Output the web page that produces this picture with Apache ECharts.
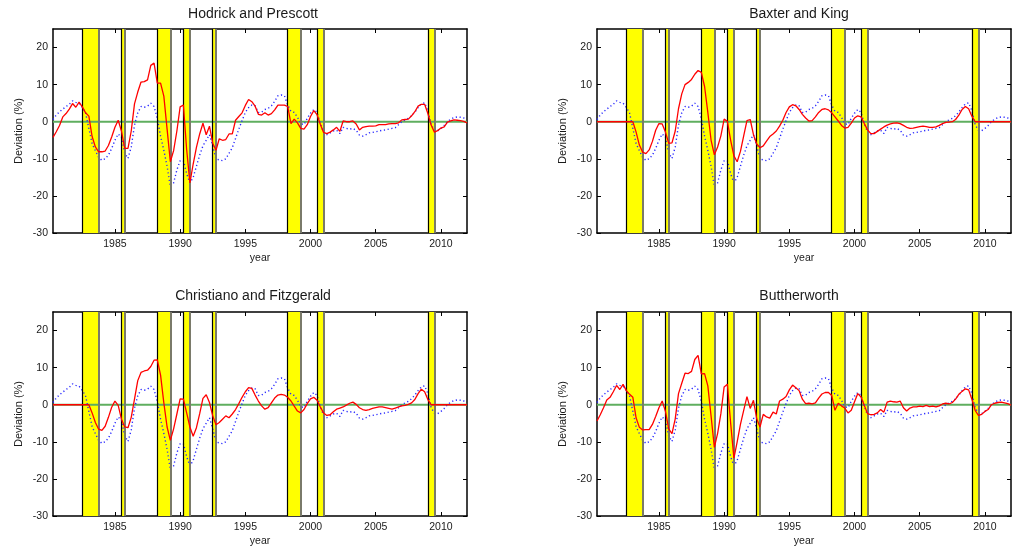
<!DOCTYPE html>
<html>
<head>
<meta charset="utf-8">
<script src="https://cdn.jsdelivr.net/npm/echarts@6/dist/echarts.min.js"></script>
<style>
  html, body { margin: 0; padding: 0; background: #fff; }
  #chart { width: 1012px; height: 554px; }
</style>
</head>
<body>
<div id="chart"></div>
<script>
// Quarterly sample: 1980Q2 .. 2012Q1
const firstQuarter = 1980.25;
const lastQuarter = 2012.0;
const quarterStep = 0.25;

// Observed deviation (%), shared by every panel (blue dotted)
const observed = [
  0.6, 1.8, 2.7, 3.4, 4.1, 4.7, 5.6, 5.2, 5.0, 3.9,
  2.3, -1.8, -5.9, -7.8, -9.6, -10.4, -10.0, -9.0, -7.2, -5.0,
  -3.3, -4.2, -8.4, -9.9, -6.8, -0.9, 2.4, 4.1, 3.9, 4.2,
  5.0, 4.1, 0.9, -3.9, -7.7, -12.0, -17.5, -16.5, -13.0, -10.5,
  -10.5, -14.0, -16.5, -15.0, -12.0, -9.0, -6.5, -5.0, -3.5, -6.5,
  -10.0, -10.3, -10.5, -10.0, -8.5, -7.0, -4.5, -2.0, 0.3, 2.5,
  3.8, 4.5, 4.3, 2.5, 2.6, 3.3, 3.6, 4.3, 5.5, 7.0,
  7.2, 7.0, 4.5, 2.8, 2.5, 1.2, -0.5, -0.8, 0.9, 2.3,
  3.3, 2.5, -0.5, -2.8, -3.5, -3.0, -2.5, -2.3, -3.2, -1.5,
  -1.8, -2.0, -1.8, -2.3, -3.6, -3.9, -3.5, -3.0, -2.9, -2.7,
  -2.5, -2.3, -2.2, -2.0, -1.8, -1.6, -0.8, 0.0, 0.5, 0.9,
  1.6, 2.6, 3.8, 4.8, 5.1, 3.0, -0.8, -2.3, -2.4, -1.8,
  -1.0, 0.0, 0.7, 1.1, 1.3, 1.2, 1.0, 0.8
];

// Filtered cycles (%), red
const hodrickPrescott = [
  -4.2, -2.7, -1.0, 1.3, 2.2, 3.4, 4.9, 3.9, 5.3, 4.0,
  2.4, 1.5, -4.0, -6.8, -8.1, -8.1, -7.9, -6.4, -4.1, -1.5,
  0.4, -2.5, -7.2, -7.2, -2.5, 4.8, 8.0, 10.7, 10.8, 11.3,
  15.2, 15.8, 10.4, 10.4, 6.9, -2.0, -10.8, -7.8, -2.5, 4.0,
  4.5, -7.5, -16.5, -11.4, -6.9, -3.3, -0.4, -3.5, -1.2, -5.8,
  -7.7, -4.6, -5.0, -4.8, -3.3, -3.3, 0.4, 1.4, 2.4, 4.4,
  6.0, 5.4, 4.2, 2.0, 1.8, 2.4, 1.8, 2.2, 3.2, 4.5,
  4.5, 4.5, 4.1, -0.5, 0.7, -0.3, -1.8, -2.0, -0.8, 1.4,
  3.0, 1.9, -0.7, -2.9, -3.2, -2.8, -2.2, -1.5, -2.6, 0.2,
  0.0, 0.0, 0.2, -0.6, -2.2, -1.5, -1.3, -1.2, -1.2, -1.1,
  -0.8, -0.8, -0.8, -0.6, -0.5, -0.5, -0.3, 0.5, 0.6, 0.7,
  1.6, 2.7, 4.2, 4.7, 4.7, 2.2, -0.9, -2.8, -2.4, -1.7,
  -1.4, -0.1, 0.2, 0.5, 0.4, 0.3, 0.1, -0.3
];

const baxterKing = [
  0, 0, 0, 0, 0, 0, 0, 0, 0, 0,
  0, 0, -2.8, -6.3, -8.2, -8.6, -7.6, -5.3, -2.3, -0.5,
  -0.6, -2.8, -5.8, -5.7, -2.5, 3.5, 7.5, 10.0, 10.6, 11.4,
  12.8, 13.8, 13.3, 9.5, 2.5, -5.0, -8.9, -6.8, -3.8, 0.7,
  0.1, -5.0, -9.2, -10.8, -8.0, -3.8, 0.3, 0.6, -3.5, -6.0,
  -7.0, -6.5, -5.2, -4.0, -3.3, -2.5, -1.2, 0.4, 2.5, 4.0,
  4.6, 4.3, 3.3, 2.0, 1.0, 0.2, 0.3, 1.3, 2.5, 3.3,
  3.5, 3.2, 2.4, 1.3, 0.2, -1.0, -1.7, -1.5, -0.4, 1.0,
  1.6, 1.3, -0.5, -2.2, -3.2, -3.2, -2.6, -2.0, -1.4, -0.9,
  -0.6, -0.4, -0.3, -0.5, -1.0, -1.5, -1.8, -1.7, -1.5, -1.3,
  -1.2, -1.3, -1.5, -1.5, -1.4, -1.0, -0.5, -0.2, -0.1, 0.0,
  0.6, 1.8, 3.3, 4.1, 3.5, 1.5, 0, 0, 0, 0,
  0, 0, 0, 0, 0, 0, 0, 0
];

const christianoFitzgerald = [
  0, 0, 0, 0, 0, 0, 0, 0, 0, 0,
  0, 0, -2.2, -4.8, -6.6, -6.9, -5.8, -3.4, -0.7, 1.0,
  -0.2, -3.9, -6.0, -6.2, -3.4, 1.5, 6.5, 8.7, 9.1, 9.3,
  10.3, 12.0, 12.1, 8.0, 0.5, -6.0, -9.6, -6.5, -2.5, 1.6,
  1.5, -2.2, -6.0, -8.5, -6.2, -2.4, 1.7, 2.7, 0.6, -3.0,
  -5.4, -4.8, -3.9, -3.0, -3.5, -2.5, -1.3, 0.3, 2.0, 3.5,
  4.6, 4.4, 2.6, 1.0, -0.3, -1.2, -0.8, 0.5, 1.8, 2.6,
  2.8, 2.6, 2.0, 1.0, -0.4, -1.7, -2.2, -1.3, 0.3, 1.6,
  2.0, 1.2, -0.6, -2.2, -2.9, -2.7, -1.9, -1.2, -0.9, -0.6,
  -0.1, 0.4, 0.7, 0.1, -0.8, -1.3, -1.5, -1.3, -1.0, -0.8,
  -0.6, -0.6, -0.8, -1.0, -1.2, -0.9, -0.6, -0.3, -0.2, 0.1,
  0.5, 1.4, 3.0, 4.2, 3.5, 1.4, 0, 0, 0, 0,
  0, 0, 0, 0, 0, 0, 0, 0
];

const butterworth = [
  -4.4, -2.7, -0.8, 1.3, 2.0, 3.5, 5.2, 4.1, 5.5, 3.8,
  2.8, 2.0, -3.6, -6.1, -6.8, -6.7, -6.7, -5.3, -3.2, -0.8,
  1.0, -1.8, -6.5, -7.8, -3.8, 3.0, 5.8, 8.5, 8.4, 9.0,
  12.2, 13.3, 8.3, 8.4, 5.1, -3.1, -11.5, -7.7, -2.4, 4.8,
  5.5, -5.0, -14.4, -10.0, -5.3, -1.5, 2.2, -1.0, 1.2, -3.8,
  -6.0, -2.6, -3.3, -3.6, -2.0, -2.5, 1.0, 1.5, 2.2, 4.0,
  5.3, 4.6, 3.8, 1.5, 0.3, 0.4, 0.2, 0.5, 1.8, 2.9,
  3.3, 3.3, 2.5, -1.5, 0.4, -0.3, -0.9, -2.2, -1.5, 0.8,
  3.0, 2.1, -0.2, -2.4, -2.7, -2.6, -2.2, -1.3, -2.0, 0.7,
  1.0, 0.8, 0.7, 1.0, -0.8, -1.7, -0.9, -0.6, -0.6, -0.4,
  -0.5, -0.2, -0.5, -0.4, -0.6, -0.3, 0.2, 0.4, 0.2, 0.6,
  1.5, 2.8, 3.6, 4.3, 4.0, 1.5, -1.5, -2.9, -2.6, -1.8,
  -1.3, 0.0, 0.4, 0.6, 0.7, 0.5, 0.3, -0.1
];

// Recession periods [start, end] (decimal years)
const recessions = [
  [1982.5, 1983.75], [1985.5, 1985.75], [1988.25, 1989.25], [1990.25, 1990.75],
  [1992.5, 1992.75], [1998.25, 1999.25], [2000.5, 2001.0], [2009.0, 2009.5]
];

const yearTicks = [1985, 1990, 1995, 2000, 2005, 2010];
const deviationTicks = [-30, -20, -10, 0, 10, 20];
const deviationMin = -30;
const deviationMax = 25;

const panelTitles = ['Hodrick and Prescott', 'Baxter and King', 'Christiano and Fitzgerald', 'Buttherworth'];
const panelCycles = [hodrickPrescott, baxterKing, christianoFitzgerald, butterworth];

// ---- layout & styling ----
const FONT = '"Liberation Sans", Arial, Helvetica, sans-serif';
const TEXT = '#1a1a1a';
const panels = [
  { left: 53, top: 29, titleX: 253, titleY: 14 },
  { left: 597, top: 29, titleX: 799, titleY: 14 },
  { left: 53, top: 312, titleX: 253, titleY: 296 },
  { left: 597, top: 312, titleX: 799, titleY: 296 }
];
const plotW = 414, plotH = 204;

function pairs(values) {
  return values.map((v, i) => [firstQuarter + i * quarterStep, v]);
}

const plainNumber = (v) => String(v);
const frameLine = { show: true, onZero: false, lineStyle: { color: '#000', width: 1.5 } };
const innerTick = (vals) => ({ show: true, inside: true, length: 4, customValues: vals, lineStyle: { color: '#000', width: 1 } });

const grid = [], xAxis = [], yAxis = [], series = [], graphic = [];

panels.forEach((p, i) => {
  grid.push({ left: p.left, top: p.top, width: plotW, height: plotH, containLabel: false });

  const xBase = { gridIndex: i, type: 'value', min: firstQuarter, max: lastQuarter, splitLine: { show: false }, axisLine: frameLine, axisTick: innerTick(yearTicks) };
  xAxis.push(Object.assign({}, xBase, {
    position: 'bottom',
    axisLabel: { customValues: yearTicks, formatter: plainNumber, fontSize: 10.5, color: TEXT, fontFamily: FONT, margin: 6 },
    name: 'year', nameLocation: 'middle', nameGap: 20,
    nameTextStyle: { fontSize: 10.5, color: TEXT, fontFamily: FONT }
  }));
  xAxis.push(Object.assign({}, xBase, { position: 'top', axisLabel: { show: false } }));

  const yBase = { gridIndex: i, type: 'value', min: deviationMin, max: deviationMax, splitLine: { show: false }, axisLine: frameLine, axisTick: innerTick(deviationTicks) };
  yAxis.push(Object.assign({}, yBase, {
    position: 'left',
    axisLabel: { customValues: deviationTicks, formatter: plainNumber, fontSize: 10.5, color: TEXT, fontFamily: FONT, margin: 5 },
    name: 'Deviation (%)', nameLocation: 'middle', nameGap: 29, nameRotate: 90,
    nameTextStyle: { fontSize: 11, color: TEXT, fontFamily: FONT }
  }));
  yAxis.push(Object.assign({}, yBase, { position: 'right', axisLabel: { show: false } }));

  const ax = { xAxisIndex: 2 * i, yAxisIndex: 2 * i };

  // recession shading
  series.push(Object.assign({
    type: 'line', data: [], silent: true, z: 1,
    markArea: {
      silent: true,
      itemStyle: { color: '#ffff00' },
      data: recessions.map(([a, b]) => [{ xAxis: a }, { xAxis: b }])
    }
  }, ax));
  // recession edges
  series.push(Object.assign({
    type: 'line', data: [], silent: true, z: 2,
    markLine: {
      silent: true, symbol: 'none', label: { show: false }, animation: false,
      data: recessions.flatMap(([a, b]) => [
        { xAxis: a, lineStyle: { color: '#000', width: 1.2, type: 'solid' } },
        { xAxis: b, lineStyle: { color: '#7a7a6a', width: 2, type: 'solid' } }
      ])
    }
  }, ax));
  // zero reference
  series.push(Object.assign({
    type: 'line', data: [[firstQuarter, 0], [lastQuarter, 0]], silent: true, z: 3,
    symbol: 'none', lineStyle: { color: '#5fae5f', width: 2 }
  }, ax));
  // observed (blue dotted)
  series.push(Object.assign({
    type: 'line', data: pairs(observed), silent: true, z: 4,
    symbol: 'none', lineStyle: { color: '#2626ff', width: 1.4, type: [1.2, 2.6] }
  }, ax));
  // filtered cycle (red)
  series.push(Object.assign({
    type: 'line', data: pairs(panelCycles[i]), silent: true, z: 5,
    symbol: 'none', lineStyle: { color: '#ff0000', width: 1.3 }
  }, ax));

  graphic.push({
    type: 'text', x: p.titleX, y: p.titleY, silent: true,
    style: { text: panelTitles[i], fontSize: 14, fontFamily: FONT, fill: TEXT, align: 'center', verticalAlign: 'middle' }
  });
});

const chart = echarts.init(document.getElementById('chart'), null, { renderer: 'canvas' });
chart.setOption({
  animation: false,
  backgroundColor: '#fff',
  grid, xAxis, yAxis, series, graphic
});
</script>
</body>
</html>
